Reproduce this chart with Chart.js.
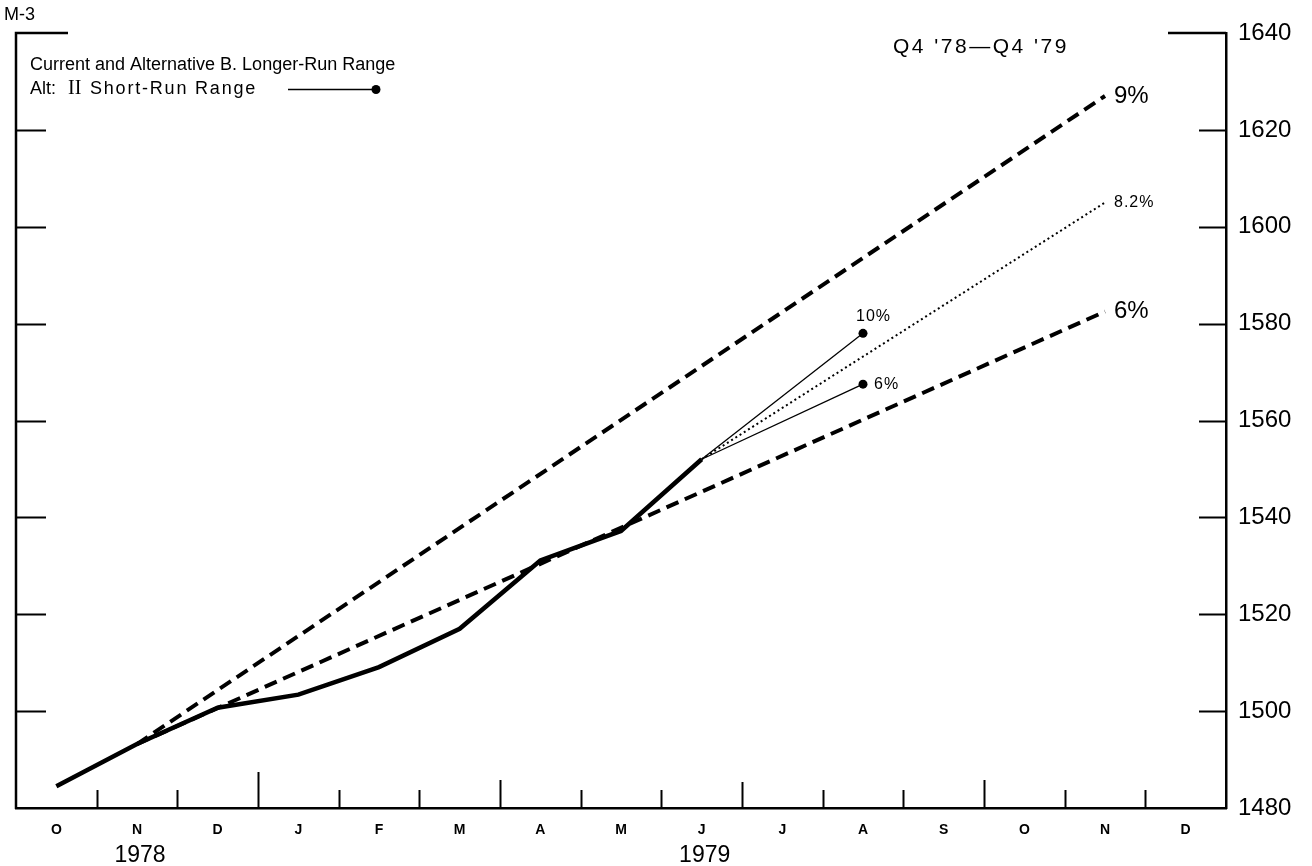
<!DOCTYPE html>
<html><head><meta charset="utf-8">
<script src="https://cdn.jsdelivr.net/npm/chart.js@4.4.0/dist/chart.umd.min.js"></script>
<style>html,body{margin:0;padding:0;background:#fff;}#wrap{width:1312px;height:866px;position:relative;}</style>
</head><body><div id="wrap"><canvas id="c" width="1312" height="866"></canvas></div>
<script>
// ---- data ----
const months = ['O','N','D','J','F','M','A','M','J','J','A','S','O','N','D'];
const yearLabels = ['1978','1979'];
const yearLabelIndex = [1, 8];
const yTickValues = [1480,1500,1520,1540,1560,1580,1600,1620,1640];
const actualM3   = [1484.5,1493.2,1500.7,1503.4,1509.1,1517.0,1531.1,1537.2,1552.0];
const longRun9   = [null,1493.2,null,null,null,null,null,null,null,null,null,null,null,1627.0,null];
const longRun6   = [null,1493.2,null,null,null,null,null,null,null,null,null,null,null,1582.5,null];
const path82     = [null,null,null,null,null,null,null,null,1552.0,null,null,null,null,1605.0,null];
const shortRun10 = [null,null,null,null,null,null,null,null,1552.0,null,1578.0,null,null,null,null];
const shortRun6  = [null,null,null,null,null,null,null,null,1552.0,null,1567.5,null,null,null,null];
const endLabels  = ['9%','6%','8.2%','10%','6%'];

const FONT = '"Liberation Sans", Arial, sans-serif';

function lastIdx(arr){ for(let i=arr.length-1;i>=0;i--) if(arr[i]!==null) return i; return -1; }
function endDot(arr){ const li = lastIdx(arr); return c => c.dataIndex === li ? 4.5 : 0; }

const deco = {
  id: 'deco',
  afterDraw(chart){
    const ctx = chart.ctx, ca = chart.chartArea;
    const xs = chart.scales.x, ys = chart.scales.y;
    ctx.save();
    ctx.strokeStyle = '#000'; ctx.fillStyle = '#000';
    // left axis + top corners
    ctx.lineWidth = 2.5;
    ctx.beginPath();
    ctx.moveTo(ca.left, ca.bottom + 1); ctx.lineTo(ca.left, ca.top);
    ctx.lineTo(ca.left + 52, ca.top);
    ctx.moveTo(ca.right - 58, ca.top); ctx.lineTo(ca.right, ca.top);
    ctx.stroke();
    // inward y ticks both sides
    ctx.lineWidth = 2;
    ys.ticks.forEach(t => {
      if (t.value === 1480 || t.value === 1640) return;
      const y = Math.round(ys.getPixelForValue(t.value)) + 0.5;
      ctx.beginPath();
      ctx.moveTo(ca.left, y); ctx.lineTo(ca.left + 30, y);
      ctx.moveTo(ca.right - 27, y); ctx.lineTo(ca.right, y);
      ctx.stroke();
    });
    // x boundary ticks
    for (let i = 1; i < months.length; i++) {
      const x = Math.round((xs.getPixelForValue(i-1) + xs.getPixelForValue(i)) / 2) + 0.5;
      let h = 18;
      if (i === 3) h = 36; else if (i === 6 || i === 12) h = 28; else if (i === 9) h = 26;
      ctx.beginPath(); ctx.moveTo(x, ca.bottom); ctx.lineTo(x, ca.bottom - h); ctx.stroke();
    }
    // year labels
    ctx.textBaseline = 'middle'; ctx.textAlign = 'center';
    ctx.font = '23px ' + FONT;
    yearLabels.forEach((s, k) => ctx.fillText(s, xs.getPixelForValue(yearLabelIndex[k]) + 3, 856));
    // titles
    ctx.textAlign = 'left';
    ctx.font = '18px ' + FONT;
    ctx.fillText('M-3', 4, 15);
    ctx.fillText('Current and Alternative B. Longer-Run Range', 30, 65);
    ctx.fillText('Alt:', 30, 89);
    ctx.font = '20px "Liberation Serif", serif';
    ctx.fillText('II', 68, 89);
    ctx.font = '18px ' + FONT;
    ctx.letterSpacing = '1.8px';
    ctx.fillText('Short-Run Range', 90, 89);
    ctx.font = '21px ' + FONT;
    ctx.letterSpacing = '2.5px';
    ctx.fillText("Q4 '78\u2014Q4 '79", 893, 47);
    ctx.letterSpacing = '0px';
    // legend sample line + dot
    ctx.lineWidth = 1.3;
    ctx.beginPath(); ctx.moveTo(288, 89.5); ctx.lineTo(376, 89.5); ctx.stroke();
    ctx.beginPath(); ctx.arc(376, 89.5, 4.5, 0, Math.PI*2); ctx.fill();
    // end labels
    const sets = [[0, 24, 9, 0, 0], [1, 24, 9, 0, 0], [2, 16, 9, 0, 1], [3, 16, -7, -17, 1], [4, 16, 11, 0, 1]];
    sets.forEach(([k, size, dx, dy, ls], j) => {
      const ds = k + 1;
      const meta = chart.getDatasetMeta(ds);
      const li = lastIdx(chart.data.datasets[ds].data);
      const el = meta.data[li];
      ctx.font = size + 'px ' + FONT;
      ctx.letterSpacing = ls + 'px';
      ctx.fillText(endLabels[j], el.x + dx, el.y + dy);
    });
    ctx.letterSpacing = '0px';
    ctx.restore();
  }
};

new Chart(document.getElementById('c'), {
  type: 'line',
  data: {
    labels: months,
    datasets: [
      { data: actualM3, borderColor: '#000', borderWidth: 4.5, pointRadius: 0, tension: 0 },
      { data: longRun9, borderColor: '#000', borderWidth: 4, borderDash: [13, 7], pointRadius: 0, spanGaps: true },
      { data: longRun6, borderColor: '#000', borderWidth: 4, borderDash: [13, 7], pointRadius: 0, spanGaps: true },
      { data: path82, borderColor: '#000', borderWidth: 2, borderDash: [2, 3], pointRadius: 0, spanGaps: true },
      { data: shortRun10, borderColor: '#000', backgroundColor: '#000', borderWidth: 1.3, pointRadius: endDot(shortRun10), pointBorderWidth: 0, spanGaps: true },
      { data: shortRun6, borderColor: '#000', backgroundColor: '#000', borderWidth: 1.3, pointRadius: endDot(shortRun6), pointBorderWidth: 0, spanGaps: true }
    ]
  },
  options: {
    responsive: false, animation: false, devicePixelRatio: 1,
    layout: { padding: { left: 16, top: 33, right: 0, bottom: 0 } },
    plugins: { legend: { display: false }, tooltip: { enabled: false } },
    scales: {
      x: {
        type: 'category', offset: true,
        grid: { display: false, drawTicks: false },
        border: { display: true, color: '#000', width: 2.5 },
        ticks: { color: '#000', font: { family: FONT, size: 14, weight: 'bold' }, padding: 14, maxRotation: 0, autoSkip: false },
        afterFit: s => { s.height = 58; }
      },
      y: {
        position: 'right', min: 1480, max: 1640,
        afterBuildTicks: s => { s.ticks = yTickValues.map(v => ({ value: v })); },
        grid: { display: false, drawTicks: false },
        border: { display: true, color: '#000', width: 2.5 },
        ticks: { color: '#000', font: { family: FONT, size: 24 }, padding: 12, callback: v => String(v) },
        afterFit: s => { s.width = 86; }
      }
    }
  },
  plugins: [deco]
});
</script>
</body></html>
